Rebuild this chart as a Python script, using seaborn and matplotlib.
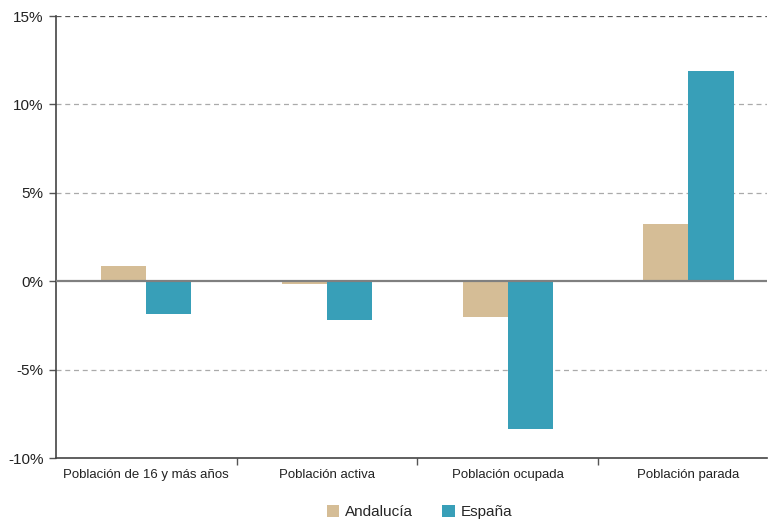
import matplotlib
matplotlib.use("Agg")
import matplotlib.pyplot as plt
import seaborn as sns
import pandas as pd
from matplotlib.patches import Patch

# Variación anual de la población (%)
categorias = ["Población de 16 y más años", "Población activa",
              "Población ocupada", "Población parada"]
andalucia = [0.85, -0.15, -2.02, 3.24]
espana = [-1.85, -2.19, -8.36, 11.88]
series = ["Andalucía", "España"]
colores = ["#D5BD96", "#389FB8"]
yticks = [-10, -5, 0, 5, 10, 15]
ytick_labels = ["-10%", "-5%", "0%", "5%", "10%", "15%"]

df = pd.DataFrame({
    "categoria": categorias * 2,
    "serie": [series[0]] * len(categorias) + [series[1]] * len(categorias),
    "valor": andalucia + espana,
})

sns.set_style("white")
plt.rcParams["font.family"] = ["Liberation Sans", "DejaVu Sans"]

fig = plt.figure(figsize=(7.7, 5.22), dpi=100)
ax = fig.add_axes([0.0727, 0.1226, 0.9234, 0.8467])

sns.barplot(data=df, x="categoria", y="valor", hue="serie", order=categorias,
            hue_order=series, palette=colores, width=0.5, saturation=1,
            linewidth=0, edgecolor="none", legend=False, ax=ax, zorder=2)

ax.set_xlim(-0.5, 3.435)
ax.set_ylim(-10, 15)
ax.set_yticks(yticks)
ax.set_yticklabels(ytick_labels, fontsize=11, color="#222222")

# grid lines
for v in yticks:
    if v in (0, -10):
        continue
    col = "#555555" if v == 15 else "#aaaaaa"
    ax.axhline(v, color=col, lw=0.9, ls=(0, (4, 3)), zorder=1)
ax.axhline(0, color="#808080", lw=1.6, zorder=3)

# category labels centred, ticks at boundaries
ax.set_xticks([0.5, 1.5, 2.5])
ax.set_xticklabels([])
ax.tick_params(axis="x", direction="out", length=5, width=1, color="#555555",
               bottom=True)
ax.tick_params(axis="y", direction="out", length=5, width=1, color="#555555",
               left=True, pad=4)
for i, c in enumerate(categorias):
    ax.text(i, -10.6, c, ha="center", va="top", fontsize=9.5, color="#222222")

ax.set_xlabel("")
ax.set_ylabel("")
for s in ("top", "right"):
    ax.spines[s].set_visible(False)
for s in ("left", "bottom"):
    ax.spines[s].set_color("#444444")
    ax.spines[s].set_linewidth(1.2)

handles = [Patch(facecolor=c, edgecolor="none") for c in colores]
fig.legend(handles, series, loc="lower center", bbox_to_anchor=(0.545, -0.021),
           ncol=2, frameon=False, fontsize=11, handlelength=0.8,
           handleheight=0.8, columnspacing=1.9, handletextpad=0.42)

fig.savefig("out.png", dpi=100)
